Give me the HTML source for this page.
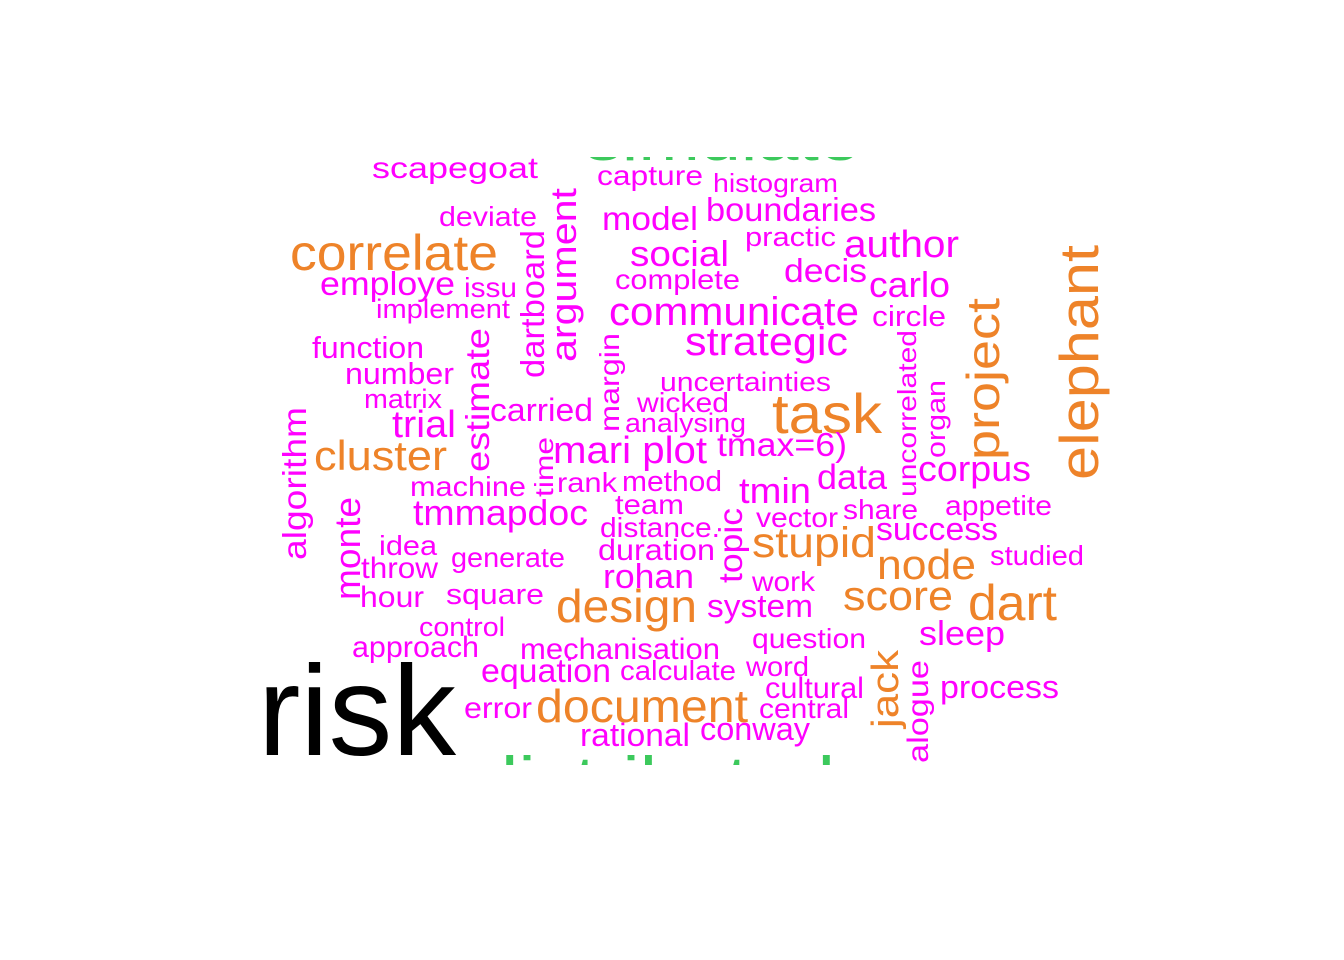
<!DOCTYPE html>
<html><head><meta charset="utf-8"><style>
html,body{margin:0;padding:0;background:#fff;}
svg{display:block;}
text{font-family:"Liberation Sans",sans-serif;}
</style></head><body>
<svg id="cloud" width="1344" height="960" viewBox="0 0 1344 960">
<defs><clipPath id="clip"><rect x="0" y="157" width="1344" height="608"/></clipPath></defs>
<g id="words" clip-path="url(#clip)"></g>
</svg>
<script>
// word, left, baseline, font size, width, colour code (m=magenta,o=orange,k=black,g=green)
const words = ["simulate","distributed","scapegoat","capture","histogram","deviate","model","boundaries","practic","author","correlate","social","decis","complete","employe","issu","carlo","implement","communicate","circle","function","strategic","number","uncertainties","matrix","wicked","carried","analysing","task","trial","mari plot","tmax=6)","cluster","data","corpus","machine","rank","method","tmin","team","tmmapdoc","share","appetite","vector","distance.","stupid","success","idea","generate","duration","studied","throw","node","rohan","work","hour","square","design","system","score","dart","control","question","sleep","approach","mechanisation","equation","calculate","word","cultural","process","risk","error","document","central","conway","rational"];
const wx = [585,475,372,597,713,439,602,706,745,844,290,630,784,615,320,464,869,376,609,872,312,685,345,660,364,637,490,625,772,392,553,717,314,817,918,410,557,622,739,615,413,843,945,756,600,752,876,379,451,598,990,361,877,603,752,360,446,556,707,843,968,419,752,919,352,520,481,620,746,765,940,258,464,536,759,700,580];
const wy = [160,800,178,185,192,226,230,221,246,257,270,266,282,289,295,297,297,318,325,326,358,355,384,391,408,412,421,432,433,437,463,456,470,489,481,496,492,491,503,514,525,519,515,527,537,557,540,555,567,560,565,578,579,588,591,607,604,622,617,610,620,636,648,645,657,659,682,680,676,698,698,755,718,722,718,740,746];
const ws = [60,62,30,28,26,28,33,33,27,38,50,36,33,28,33,28,36,27,40,29,31,40,31,27,27,28,32,27,56,38,38,33,42,35,36,28,28,29,36,28,36,28,28,28,28,43,32,28,28,30,28,30,42,34,28,30,29,46,32,42,50,27,28,34,30,30,33,28,28,30,32,128,30,46,28,32,32];
const ww = [275,360,166,106,125,98,96,170,91,115,208,99,83,125,135,53,81,134,250,74,112,163,109,171,78,92,103,121,110,64,154,130,133,70,113,116,60,100,72,69,175,75,107,82,120,124,122,58,114,117,94,77,99,91,63,64,98,141,106,110,89,86,114,86,127,200,130,116,63,99,119,198,68,212,90,110,110];
const wc = "gg" + "mmmmmmmm" + "o" + "mmmmmmmmmmmmmmmmm" + "o" + "mmm" + "o" + "mmmmmmmmmmmm" + "o" + "mmmmmm" + "o" + "mmmm" + "o" + "m" + "oo" + "mmmmmmmmmm" + "k" + "m" + "o" + "mmm";
// vertical words (rotated -90): word, baseline x, bottom y, font size, length, colour
const vwords = ["argument","dartboard","estimate","margin","algorithm","time","monte","topic","uncorrelated","organ","project","elephant","jack","alogue"];
const vx = [576,544,489,619,306,553,360,742,916,945,999,1098,898,928];
const vy = [362,378,472,432,560,497,600,583,497,458,460,480,728,763];
const vs = [36,33,33,28,33,26,36,33,26,27,46,55,38,30];
const vl = [174,148,144,99,153,60,103,75,167,78,162,235,78,103];
const vc = "mmmmmmmmmmooom";
const colors = {m:"#FF00FF", o:"#EE8329", k:"#000000", g:"#3CC95C"};
const g = document.getElementById('words');
const NS = "http://www.w3.org/2000/svg";
function slug(s){return s.toLowerCase().replace(/[^a-z0-9]+/g,'-').replace(/^-|-$/g,'');}
for (let i=0;i<words.length;i++){
  const t = document.createElementNS(NS,'text');
  t.setAttribute('x', wx[i]);
  t.setAttribute('y', wy[i]);
  t.setAttribute('font-size', ws[i]);
  t.setAttribute('textLength', ww[i]);
  t.setAttribute('lengthAdjust', 'spacingAndGlyphs');
  t.setAttribute('fill', colors[wc[i]]);
  t.textContent = words[i];
  
  
  g.appendChild(t);
}
for (let i=0;i<vwords.length;i++){
  const t = document.createElementNS(NS,'text');
  t.setAttribute('x', 0);
  t.setAttribute('y', 0);
  t.setAttribute('transform', 'translate(' + vx[i] + ',' + vy[i] + ') rotate(-90)');
  t.setAttribute('font-size', vs[i]);
  t.setAttribute('textLength', vl[i]);
  t.setAttribute('lengthAdjust', 'spacingAndGlyphs');
  t.setAttribute('fill', colors[vc[i]]);
  t.textContent = vwords[i];
  
  
  g.appendChild(t);
}
</script>
</body></html>
